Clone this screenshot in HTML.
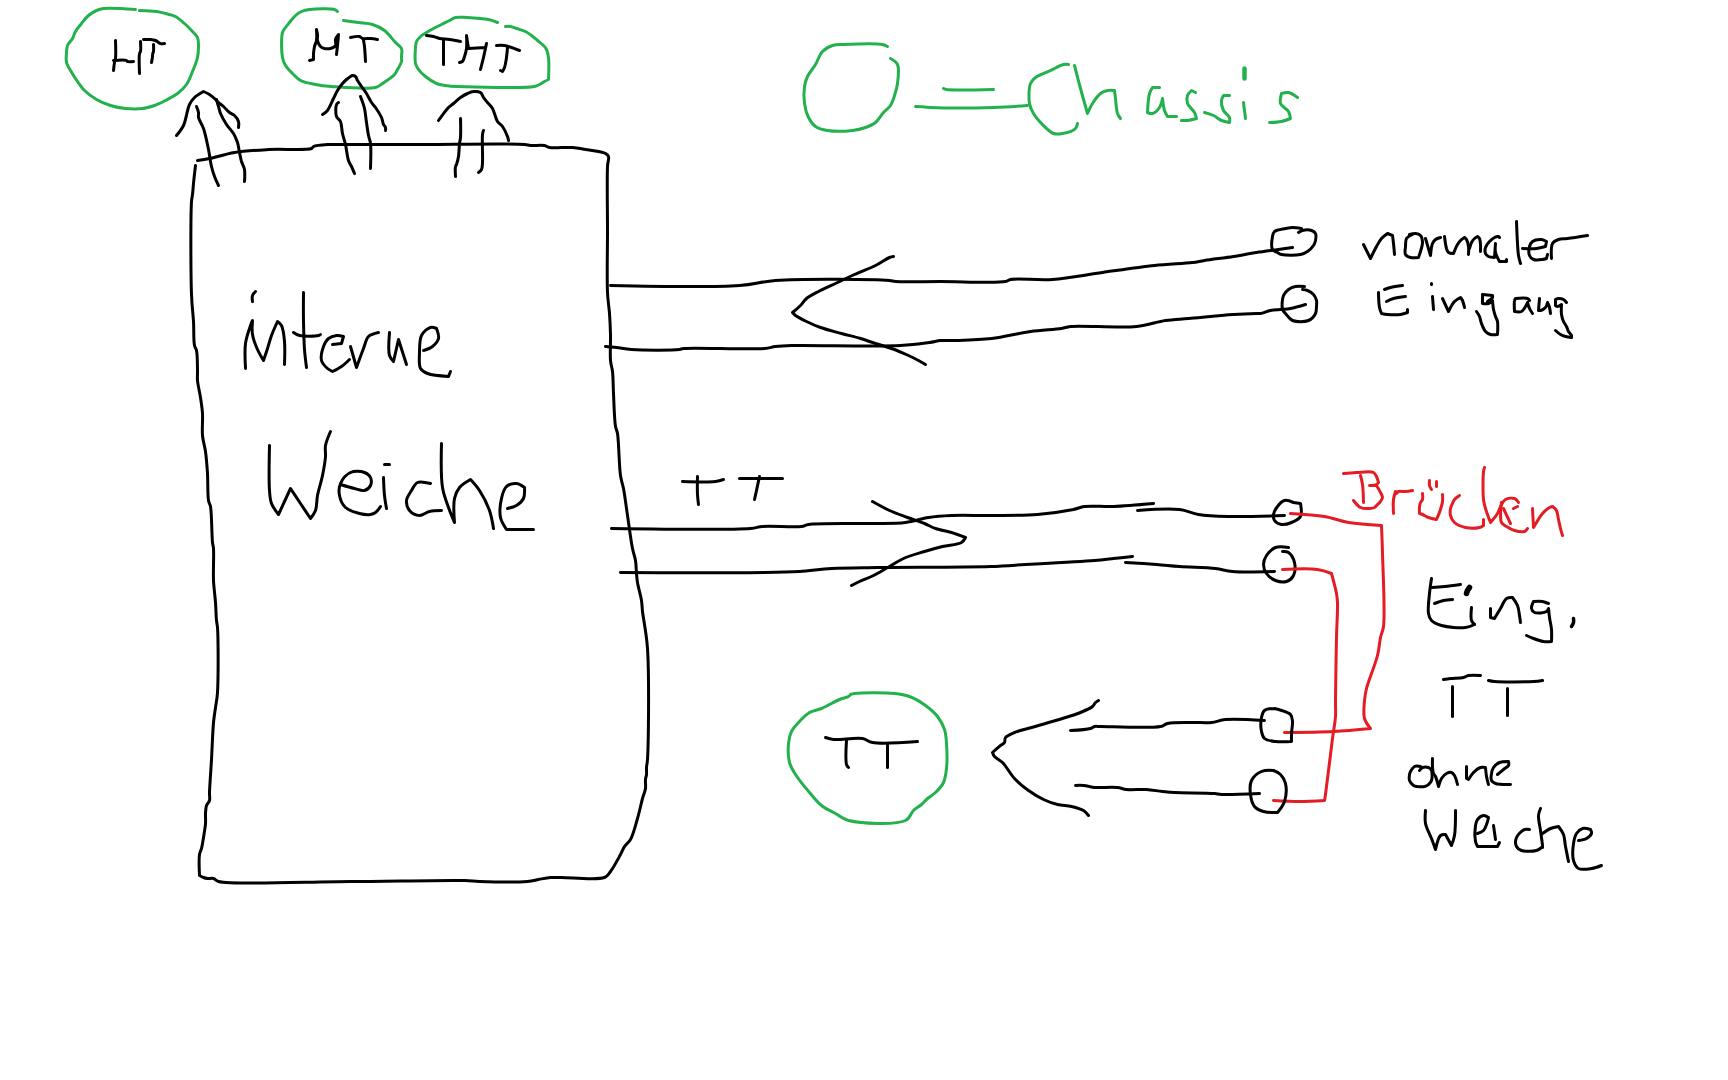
<!DOCTYPE html>
<html><head><meta charset="utf-8"><title>Weiche</title>
<style>
html,body{margin:0;padding:0;background:#fff;width:1728px;height:1080px;overflow:hidden;font-family:"Liberation Sans",sans-serif;}
svg{display:block;}
path{fill:none;stroke-linecap:round;stroke-linejoin:round;}
.k{stroke:#000000;stroke-width:3.0;}
.g{stroke:#22b14c;stroke-width:3.0;}
.r{stroke:#e41c24;stroke-width:3.0;}
</style></head><body>
<svg width="1728" height="1080" viewBox="0 0 1728 1080">
<rect width="1728" height="1080" fill="#fff"/>
<path class="g" d="M135.5 9.5 C135.5 9.5 110.3 7.7 103.5 8.5 C100.3 8.9 98.8 9.5 96.5 10.5 C93.8 11.7 90.9 13.4 88.5 15.5 C85.9 17.7 83.7 20.8 81.5 23.5 C79.4 26.1 77 28.8 75.5 31.5 C74.2 33.8 73.8 36.2 72.5 38.5 C71.1 40.9 68.5 43 67.5 45.5 C66.6 47.7 66.7 50 66.5 52.5 C66.3 55.5 65.8 59.4 66.5 62.5 C67.2 65.4 68.9 67.7 70.5 70.5 C72.4 73.9 75.1 78.1 77.5 81.5 C79.8 84.7 81.6 87.7 84.5 90.5 C87.8 93.7 92.2 97 96.5 99.5 C100.8 102 105.7 104 110.5 105.5 C115.3 107 120.3 108 125.5 108.5 C131 109 137.4 109.1 142.5 108.5 C146.9 108 150.6 106.8 154.5 105.5 C158.3 104.2 161.8 102.4 165.5 100.5 C169.5 98.4 173.9 96.2 177.5 93.5 C180.9 90.9 184 88 186.5 84.5 C189.1 80.8 190.7 76 192.5 71.5 C194.4 67 196.5 61.9 197.5 57.5 C198.3 53.7 198.5 50 198.5 46.5 C198.5 43.3 198.7 40.2 197.5 37.5 C196.3 34.8 193.6 32.8 191.5 30.5 C189.3 28.1 187.1 25.8 184.5 23.5 C181.8 21.1 178.7 18.2 175.5 16.5 C172.4 14.9 168.8 14.4 165.5 13.5 C162.4 12.7 160 12 156.5 11.5 C151.7 10.8 139.5 10.5 139.5 10.5"/>
<path class="k" d="M115.5 40.5 C115.5 40.5 116 54.7 115.5 58.5 C115.3 60.3 114.8 60.9 114.5 62.5 C114.1 64.7 113.5 70.5 113.5 70.5"/>
<path class="k" d="M113.5 60.5 C113.5 60.5 124.7 59.7 126.5 60.5 C127.1 60.8 127 61.3 127.5 61.5 C128.6 62 133.5 61.5 133.5 61.5"/>
<path class="k" d="M140.5 41.5 C140.5 41.5 141 49.5 140.5 51.5 C140.3 52.5 139.7 52.4 139.5 53.5 C138.8 56.7 139.5 73.5 139.5 73.5"/>
<path class="k" d="M143.5 39.5 C143.5 39.5 148.4 39.3 150.5 39.5 C152.3 39.7 153.9 39.9 155.5 40.5 C157.2 41.2 158.9 43 160.5 43.5 C161.9 43.9 164.5 43.5 164.5 43.5"/>
<path class="k" d="M153.5 44.5 C153.5 44.5 153.8 49.7 153.5 51.5 C153.3 52.7 152.6 53.6 152.5 54.5 C152.4 55.2 152.6 55.7 152.5 56.5 C152.4 58 151.5 62.5 151.5 62.5"/>
<path class="k" d="M176.5 135.5 C176.5 135.5 181.5 129.6 183.5 125.5 C186.1 120 187.1 109.5 189.5 104.5 C191 101.4 192.4 99.6 194.5 97.5 C196.9 95.2 203.5 91.5 203.5 91.5 C203.5 91.5 207.6 93.3 209.5 94.5 C211.3 95.7 213 97.1 214.5 98.5 C215.9 99.8 217.1 101.2 218.5 102.5 C220 103.9 221.8 105 223.5 106.5 C225.5 108.3 227.5 110.9 229.5 112.5 C231.2 113.8 233.1 114.1 234.5 115.5 C236.1 117 237.9 119.4 238.5 121.5 C239.1 123.4 238.5 127.5 238.5 127.5"/>
<path class="k" d="M196.5 106.5 C196.5 106.5 198.2 110.6 198.5 112.5 C198.8 114.2 198.1 115.6 198.5 117.5 C199.2 120.5 202 124.2 203.5 128.5 C205.5 134.3 207.1 142.9 208.5 149.5 C209.7 155.4 210.3 161.6 211.5 166.5 C212.4 170.3 213.3 173.3 214.5 176.5 C215.7 179.6 218.5 185.5 218.5 185.5"/>
<path class="k" d="M216.5 99.5 C216.5 99.5 217.8 104.2 218.5 106.5 C219.2 108.8 219.5 111 220.5 113.5 C221.9 116.8 224.3 121.1 226.5 124.5 C228.6 127.7 231.6 130.4 233.5 133.5 C235.2 136.4 236.5 139.4 237.5 142.5 C238.5 145.7 238.8 149.3 239.5 152.5 C240.2 155.6 240.6 158.6 241.5 161.5 C242.3 164.3 244 166.5 244.5 169.5 C245.1 173 244.5 181.5 244.5 181.5"/>
<path class="g" d="M337.5 11.5 C337.5 11.5 336.1 10 334.5 9.5 C330.3 8.2 315.5 8.8 309.5 9.5 C306.1 9.9 303.9 10.4 301.5 11.5 C299.3 12.5 297.4 13.8 295.5 15.5 C293.4 17.4 291.3 20.3 289.5 22.5 C288 24.3 286.7 25.8 285.5 27.5 C284.4 29.1 283.2 30.1 282.5 32.5 C281.1 37.5 281.4 51.5 282.5 57.5 C283.1 61 284 63 285.5 65.5 C287.2 68.3 290 71 292.5 73.5 C295 76 297.2 78.7 300.5 80.5 C304.5 82.6 310.4 83.5 315.5 84.5 C320.7 85.5 324.8 86 331.5 86.5 C342.5 87.3 367.3 89.6 375.5 87.5 C379 86.6 379.9 85.2 382.5 83.5 C386 81.2 392 77.3 394.5 74.5 C396.1 72.8 396.5 71.4 397.5 69.5 C398.8 67.2 400.9 63.9 401.5 61.5 C401.9 59.7 401.5 58.4 401.5 56.5 C401.5 54.1 402.5 50.8 401.5 48.5 C400.5 46.1 397.8 44.9 395.5 42.5 C392.4 39.2 388.6 33.6 384.5 30.5 C380.8 27.7 376.8 25.8 372.5 24.5 C368.1 23.1 363.2 23.2 358.5 22.5 C353.6 21.8 343.5 20.5 343.5 20.5"/>
<path class="k" d="M309.5 60.5 C309.5 60.5 313.5 59.5 313.5 59.5 C313.5 59.5 313.4 55.6 313.5 53.5 C313.7 51.3 314 48.7 314.5 46.5 C315 44.4 316.1 42.8 316.5 40.5 C317 37.4 316.5 29.5 316.5 29.5 C316.5 29.5 317.3 32.7 317.5 34.5 C317.7 36.4 317 38.6 317.5 40.5 C318 42.6 319.2 45.2 320.5 46.5 C321.6 47.6 323 48.1 324.5 48.5 C326.3 48.9 328.7 49 330.5 48.5 C332.3 48 334.7 47 335.5 45.5 C336.4 44 335 41.3 335.5 39.5 C336 37.7 338.5 34.5 338.5 34.5 C338.5 34.5 337.9 42 337.5 45.5 C337.2 48.7 336.5 54.5 336.5 54.5"/>
<path class="k" d="M350.5 37.5 C350.5 37.5 357.4 36 359.5 36.5 C360.8 36.8 361.2 38.1 362.5 38.5 C364.5 39.1 367.9 38.3 370.5 38.5 C372.9 38.7 377.5 39.5 377.5 39.5"/>
<path class="k" d="M363.5 40.5 C363.5 40.5 364.2 44 364.5 46.5 C364.9 50.4 365.5 61.5 365.5 61.5"/>
<path class="k" d="M322.5 114.5 C322.5 114.5 325.9 112.4 327.5 110.5 C329.7 107.7 331.7 102.1 333.5 98.5 C335 95.6 336 93 337.5 90.5 C339 88 340.8 85.5 342.5 83.5 C343.8 81.9 345.1 80.7 346.5 79.5 C347.8 78.4 349.4 77.2 350.5 76.5 C351.3 76 351.8 75.6 352.5 75.5 C353.4 75.4 354.7 75.8 355.5 76.5 C356.5 77.3 356.7 79.1 357.5 80.5 C358.6 82.3 360.1 84.4 361.5 86.5 C363.1 88.8 364.9 91 366.5 93.5 C368.2 96.3 369.8 100 371.5 102.5 C372.8 104.5 374.1 105.5 375.5 107.5 C377.4 110.2 380.1 114.4 381.5 117.5 C382.6 120 382.7 122.7 383.5 124.5 C384.1 125.8 385.2 126.4 385.5 127.5 C385.8 128.5 385.5 130.5 385.5 130.5"/>
<path class="k" d="M338.5 102.5 C338.5 102.5 336.9 103.4 336.5 104.5 C335.6 106.7 335.4 113.5 336.5 116.5 C337.3 118.7 339.5 119.3 340.5 121.5 C341.8 124.5 341.6 129.6 342.5 133.5 C343.3 137.3 344.6 140.5 345.5 144.5 C346.6 149.3 347.2 156.5 348.5 160.5 C349.4 163.1 350.5 164.4 351.5 166.5 C352.5 168.7 354.5 173.5 354.5 173.5"/>
<path class="k" d="M360.5 96.5 C360.5 96.5 363.5 104.3 364.5 108.5 C365.5 112.9 365.8 117.9 366.5 122.5 C367.2 126.9 367.7 131.7 368.5 135.5 C369.1 138.5 370.1 140.1 370.5 143.5 C371.2 149.5 370.5 168.5 370.5 168.5"/>
<path class="g" d="M497.5 22.5 C497.5 22.5 492.2 20.3 488.5 19.5 C482.8 18.3 472.6 17.8 466.5 17.5 C462.2 17.3 458.5 16.8 455.5 17.5 C453.1 18.1 451.6 19.4 449.5 20.5 C447 21.7 444.2 23.2 441.5 24.5 C438.8 25.8 436.1 27.1 433.5 28.5 C431.1 29.8 428.7 31.1 426.5 32.5 C424.4 33.8 422.2 34.9 420.5 36.5 C418.9 38 417.3 39.6 416.5 41.5 C415.7 43.3 415.7 45 415.5 47.5 C415.2 51.5 414.6 59.5 415.5 63.5 C416.1 66.1 417.1 67.5 418.5 69.5 C420.2 71.9 422.8 74.3 425.5 76.5 C428.6 79 432.9 82 436.5 83.5 C439.5 84.8 442.3 85 445.5 85.5 C449 86 451.2 86.3 456.5 86.5 C470.7 87.1 524.1 88.5 534.5 86.5 C537.2 86 537.9 85.3 539.5 84.5 C541.2 83.7 542.9 82.4 544.5 81.5 C545.9 80.7 548.5 79.5 548.5 79.5 C548.5 79.5 549.2 63 548.5 57.5 C548.1 54.1 547.5 51.6 546.5 49.5 C545.7 47.8 544.8 46.8 543.5 45.5 C541.9 43.8 539.5 42.2 537.5 40.5 C535.5 38.8 533.5 37 531.5 35.5 C529.5 34 527.8 32.6 525.5 31.5 C522.9 30.2 519.2 29.4 516.5 28.5 C514.3 27.8 512.4 26.8 510.5 26.5 C508.8 26.2 505.5 26.5 505.5 26.5"/>
<path class="k" d="M426.5 35.5 C426.5 35.5 431.3 36 433.5 36.5 C435.6 37 437.2 38 439.5 38.5 C442.4 39.1 446.1 39 449.5 39.5 C453.1 40 460.5 41.5 460.5 41.5"/>
<path class="k" d="M443.5 39.5 L443.5 64.5"/>
<path class="k" d="M459.5 62.5 C459.5 62.5 461.7 62.2 462.5 61.5 C463.5 60.5 463.9 58.4 464.5 56.5 C465.3 54.2 466.1 51.5 466.5 48.5 C467 44.7 466.5 35.5 466.5 35.5 C466.5 35.5 468.5 48.5 468.5 48.5 C468.5 48.5 485.5 47.5 485.5 47.5 C485.5 47.5 486.5 43.5 486.5 43.5 C486.5 43.5 484.5 53 483.5 57.5 C482.5 61.7 480.5 69.5 480.5 69.5"/>
<path class="k" d="M496.5 45.5 C496.5 45.5 501.5 45 504.5 45.5 C508.8 46.2 519.5 50.5 519.5 50.5"/>
<path class="k" d="M507.5 47.5 C507.5 47.5 507 54.2 506.5 57.5 C506 60.8 505.4 65 504.5 67.5 C503.9 69.2 502.5 71.5 502.5 71.5 C502.5 71.5 500.5 70.5 500.5 70.5"/>
<path class="k" d="M438.5 120.5 C438.5 120.5 445.6 110.5 448.5 107.5 C450.3 105.6 451.7 105 453.5 103.5 C455.7 101.7 458.1 99.2 460.5 97.5 C462.8 95.9 465.2 94.5 467.5 93.5 C469.5 92.6 471.4 91.7 473.5 91.5 C475.7 91.3 478.8 91.4 480.5 92.5 C482 93.5 482.4 95.9 483.5 97.5 C484.7 99.2 486.1 100.8 487.5 102.5 C489.1 104.4 491 106 492.5 108.5 C494.5 111.9 495.4 118.3 497.5 121.5 C499 123.8 501 124.4 502.5 126.5 C504.4 129.1 506.5 133.9 507.5 136.5 C508.1 138.1 508.5 140.5 508.5 140.5"/>
<path class="k" d="M460.5 118.5 C460.5 118.5 460.9 133 460.5 137.5 C460.3 140.1 459.8 141.1 459.5 143.5 C459.1 147 459.1 152.7 458.5 156.5 C458 159.5 457.1 162.7 456.5 164.5 C456.2 165.4 455.7 165.5 455.5 166.5 C455 168.5 455.5 176.5 455.5 176.5"/>
<path class="k" d="M483.5 130.5 C483.5 130.5 482.7 132.5 482.5 134.5 C481.9 139.6 482.9 156.3 482.5 162.5 C482.3 165.6 482.4 167.8 481.5 169.5 C480.8 170.9 478.5 172.5 478.5 172.5"/>
<path class="k" d="M197.5 160.5 C197.5 160.5 204.8 159.5 209.5 158.5 C216.3 157.1 225.5 154 234.5 152.5 C244.9 150.8 256.5 150.2 268.5 149.5 C282 148.7 306.5 150.6 311.5 148.5 C312.8 148 312.4 147.1 313.5 146.5 C316 145.3 323.2 144.8 327.5 144.5 C331.1 144.2 333.2 144.5 337.5 144.5 C345.3 144.5 358.4 144.5 370.5 144.5 C385.4 144.5 400.8 144.5 420.5 144.5 C448.9 144.5 511.1 143.4 524.5 144.5 C527.7 144.8 528.1 145.3 530.5 145.5 C534.2 145.8 541.1 144.8 544.5 145.5 C546.6 145.9 547.2 147.1 549.5 147.5 C554.3 148.4 565.9 147 572.5 147.5 C577.5 147.9 581.2 148.8 585.5 149.5 C589.8 150.2 594.9 150.7 598.5 151.5 C601.2 152.1 603.7 152.5 605.5 153.5 C606.8 154.3 608 155 608.5 156.5 C609.3 158.7 607.7 161.7 607.5 166.5 C606.9 178.6 607.5 209.3 607.5 230.5 C607.5 251.3 606.8 277.3 607.5 292.5 C607.9 301.4 609 306.5 609.5 313.5 C610 320.5 610.3 327.1 610.5 334.5 C610.7 342.7 609.9 353.7 610.5 360.5 C610.9 365 612 367.2 612.5 371.5 C613.2 377.6 613.1 385.4 613.5 393.5 C614 403.4 614.3 419.6 615.5 426.5 C616.1 429.7 616.9 430.1 617.5 433.5 C618.9 441.6 619 465.5 620.5 475.5 C621.3 481.1 622.5 483.4 623.5 488.5 C624.9 495.9 626.1 506.1 627.5 515.5 C629.1 525.9 630.8 540.3 632.5 548.5 C633.5 553.5 634.8 556.4 635.5 560.5 C636.2 564.7 636.1 569.6 636.5 573.5 C636.8 576.8 636.9 579 637.5 582.5 C638.3 587.5 640.7 595.2 641.5 600.5 C642.1 604.6 642 606.8 642.5 611.5 C643.5 620.2 646.4 632.8 647.5 648.5 C649.3 675.5 648.5 743.9 647.5 759.5 C647.2 763.7 646.7 764.9 646.5 767.5 C646.4 769.9 646.7 772.4 646.5 774.5 C646.3 776.3 645.7 777.6 645.5 779.5 C645.2 782.1 645.9 785.5 645.5 788.5 C645 791.8 643.6 794.6 642.5 798.5 C641 804 639.5 811.8 637.5 818.5 C635.5 825.5 633.3 834.6 630.5 839.5 C628.7 842.7 626.2 844 624.5 846.5 C622.9 849 622.2 851.4 620.5 854.5 C618 859.1 613.7 867.4 610.5 871.5 C608.4 874.2 607.8 876.1 604.5 877.5 C597 880.6 571.1 877.5 561.5 877.5 C556.6 877.5 554.2 877.2 550.5 877.5 C546.6 877.8 542.4 878.8 538.5 879.5 C534.8 880.2 532.5 881.1 527.5 881.5 C517.2 882.4 491 881.9 479.5 881.5 C473.1 881.3 471.8 880.7 464.5 880.5 C444.3 879.9 389.9 881.3 350.5 881.5 C308.1 881.7 232.7 885.4 218.5 881.5 C215.5 880.7 215.3 879 213.5 878.5 C211.7 878 209.3 878.7 207.5 878.5 C206 878.3 204.8 878 203.5 877.5 C202.1 877 199.5 875.5 199.5 875.5 C199.5 875.5 198.7 859.3 199.5 854.5 C199.9 851.8 200.9 850.8 201.5 848.5 C202.3 845.4 202.9 841.4 203.5 837.5 C204.2 833.1 205.2 827.8 205.5 823.5 C205.8 819.9 205.3 816.6 205.5 813.5 C205.7 810.7 205.7 807.8 206.5 805.5 C207.2 803.6 209 802.4 209.5 800.5 C210.1 798.2 209.4 796.1 209.5 792.5 C209.7 785.2 210.9 770.8 211.5 759.5 C212.2 747.5 212.6 732.1 213.5 722.5 C214.1 716.4 214.8 712.5 215.5 707.5 C216.2 702.5 217.1 699.3 217.5 692.5 C218.4 678.5 218.3 638.2 217.5 627.5 C217.2 624 216.8 623.4 216.5 620.5 C216 615.9 216 608.8 215.5 602.5 C215 595.5 213.9 588.5 213.5 580.5 C213.1 570.8 214 554.9 213.5 548.5 C213.3 545.7 212.8 545.4 212.5 542.5 C211.7 535.6 211.8 513.4 210.5 506.5 C209.9 503.6 209 503.3 208.5 500.5 C207.5 494.8 208 482 207.5 473.5 C207 465.8 206.4 458.2 205.5 451.5 C204.7 445.7 203 441.3 202.5 435.5 C201.9 428.8 202.9 420.2 202.5 413.5 C202.1 407.7 201.3 402.9 200.5 397.5 C199.7 391.9 197.9 385.4 197.5 380.5 C197.2 376.7 197.6 374.4 197.5 370.5 C197.4 365 197.5 354.9 196.5 350.5 C196 348.2 195 347.8 194.5 345.5 C193.4 340.5 194 329.7 193.5 321.5 C193 312.8 191.9 306.2 191.5 294.5 C190.7 272.8 190.6 214.8 191.5 201.5 C191.8 197.8 192.2 197.1 192.5 194.5 C192.9 191.3 193.1 187.6 193.5 183.5 C194 178.2 195.5 165.5 195.5 165.5"/>
<path class="k" d="M255.5 291.5 C255.5 291.5 253 293.9 252.5 295.5 C251.9 297.2 252.5 301.5 252.5 301.5"/>
<path class="k" d="M245.5 368.5 C245.5 368.5 244.5 351.1 245.5 343.5 C246.4 336.9 249.1 329.6 250.5 325.5 C251.2 323.3 252.5 320.5 252.5 320.5 C252.5 320.5 251.7 329.8 252.5 334.5 C253.3 339.5 255.5 345 257.5 349.5 C259.3 353.5 263.5 360.5 263.5 360.5 C263.5 360.5 266.2 352.6 267.5 348.5 C268.9 344.3 269.9 339.9 271.5 335.5 C273.2 330.9 277.5 321.5 277.5 321.5 C277.5 321.5 280.4 323.5 281.5 325.5 C283.3 328.9 284 335.7 284.5 341.5 C285.1 348.4 284.5 364.5 284.5 364.5"/>
<path class="k" d="M303.5 292.5 C303.5 292.5 303.3 311.9 303.5 321.5 C303.7 330.9 303.9 341.2 304.5 349.5 C305 356.2 306.5 367.5 306.5 367.5"/>
<path class="k" d="M293.5 332.5 C293.5 332.5 296.8 334.9 299.5 335.5 C304 336.6 315.4 336.2 318.5 335.5 C319.6 335.3 320.5 334.5 320.5 334.5"/>
<path class="k" d="M332.5 344.5 C332.5 344.5 341.5 343.5 341.5 343.5 C341.5 343.5 343.5 336.5 343.5 336.5 C343.5 336.5 338.9 335.2 336.5 335.5 C333.9 335.8 330.6 336.8 328.5 338.5 C326.3 340.3 324.7 343.3 323.5 346.5 C322.1 350.4 320.5 356.6 321.5 360.5 C322.3 363.7 325.4 366.6 327.5 368.5 C329.1 369.9 332.5 371.5 332.5 371.5 C332.5 371.5 338.7 368.5 341.5 366.5 C344.4 364.5 349.5 359.5 349.5 359.5"/>
<path class="k" d="M350.5 346.5 C350.5 346.5 356.5 367.5 356.5 367.5 C356.5 367.5 361.3 354.1 363.5 348.5 C365.3 344 365.8 339.2 368.5 336.5 C371 334.1 378.5 332.5 378.5 332.5"/>
<path class="k" d="M389.5 332.5 C389.5 332.5 388 350.5 389.5 355.5 C390.4 358.3 393.5 361.5 393.5 361.5 C393.5 361.5 398.5 339.5 398.5 339.5 C398.5 339.5 406.5 364.5 406.5 364.5"/>
<path class="k" d="M423.5 350.5 C423.5 350.5 430 348.5 432.5 346.5 C435 344.5 437.8 341.5 438.5 338.5 C439.2 335.5 436.5 328.5 436.5 328.5 C436.5 328.5 432.6 326.9 430.5 327.5 C427.6 328.3 423.4 331.9 421.5 335.5 C419.3 339.8 419.7 346.9 419.5 352.5 C419.4 357.9 418.5 364.9 420.5 368.5 C422 371.1 424.3 372.2 427.5 373.5 C432.5 375.5 448.5 376.5 448.5 376.5 C448.5 376.5 450.5 371.5 450.5 371.5"/>
<path class="k" d="M269.5 445.5 C269.5 445.5 268.7 480 269.5 490.5 C269.9 496.2 270 499.5 271.5 503.5 C273 507.5 278.5 514.5 278.5 514.5 C278.5 514.5 290.5 488.5 290.5 488.5 C290.5 488.5 297.2 498.5 300.5 503.5 C303.8 508.5 310.5 518.5 310.5 518.5 C310.5 518.5 314.3 513.7 315.5 510.5 C317 506.4 316.5 500.8 317.5 495.5 C318.7 489.3 321.2 482.1 322.5 475.5 C323.8 469.1 325.1 462 325.5 456.5 C325.8 452.3 324.8 449.3 325.5 445.5 C326.3 441.1 330.5 431.5 330.5 431.5"/>
<path class="k" d="M340.5 484.5 C340.5 484.5 350.2 487.5 354.5 488.5 C358.1 489.4 361.7 491.2 364.5 490.5 C366.9 489.9 369.5 487.6 370.5 485.5 C371.5 483.3 371.5 479.7 370.5 477.5 C369.5 475.4 367.1 473.5 364.5 472.5 C361 471.2 354.5 470.7 350.5 472.5 C346.4 474.3 342.3 479.4 340.5 483.5 C338.9 487.2 338.7 491.6 339.5 495.5 C340.3 499.6 342.3 504.5 345.5 507.5 C348.9 510.7 355 512.4 359.5 513.5 C363.3 514.5 367.6 514.9 370.5 514.5 C372.5 514.2 374 513.6 375.5 512.5 C377.4 511.2 380.5 506.5 380.5 506.5"/>
<path class="k" d="M384.5 464.5 L389.5 464.5"/>
<path class="k" d="M383.5 477.5 C383.5 477.5 383.9 490 384.5 495.5 C385 500.2 386.5 508.5 386.5 508.5"/>
<path class="k" d="M430.5 483.5 C430.5 483.5 420.7 481 417.5 482.5 C414.7 483.8 413.3 487.6 411.5 490.5 C409.6 493.6 406.8 497.1 406.5 500.5 C406.2 503.8 407.4 508 409.5 510.5 C411.7 513.1 416.1 515.4 419.5 515.5 C422.8 515.6 425.9 512.3 429.5 511.5 C433.3 510.6 441.5 510.5 441.5 510.5"/>
<path class="k" d="M441.5 443.5 C441.5 443.5 440.6 475.8 442.5 487.5 C443.8 495.6 446.4 501.4 448.5 507.5 C450.4 512.9 454.5 522.5 454.5 522.5 C454.5 522.5 453.1 504.8 454.5 498.5 C455.5 494 457 490.6 459.5 487.5 C462.2 484.2 470.5 479.5 470.5 479.5 C470.5 479.5 476.7 486.1 479.5 490.5 C483.1 496 487.1 503.9 489.5 510.5 C491.6 516.5 493.5 528.5 493.5 528.5"/>
<path class="k" d="M507.5 508.5 C507.5 508.5 513.9 507.1 516.5 505.5 C519.2 503.8 522.1 501.4 523.5 498.5 C524.9 495.5 524.5 487.5 524.5 487.5 C524.5 487.5 519.4 483.7 516.5 483.5 C513.4 483.2 509 484.3 506.5 486.5 C503.8 489 502.5 493.9 501.5 498.5 C500.2 504 499.4 512 500.5 517.5 C501.5 522.1 506.5 529.5 506.5 529.5 C506.5 529.5 533.5 529.5 533.5 529.5"/>
<path class="g" d="M887.5 46.5 C887.5 46.5 885 45 882.5 44.5 C875.7 43.2 852.5 44.1 843.5 44.5 C838.7 44.7 836 44.4 832.5 45.5 C828.9 46.7 825.2 48.6 822.5 51.5 C819.4 54.7 818 60.3 815.5 64.5 C813 68.6 809.4 72.5 807.5 76.5 C805.9 79.9 805.1 82.7 804.5 86.5 C803.8 91.4 803.8 98.2 804.5 103.5 C805.2 108.4 806.5 113.5 808.5 117.5 C810.3 121 812.5 124.3 815.5 126.5 C818.7 128.8 822.7 129.7 827.5 130.5 C834.2 131.6 845.6 131.3 852.5 130.5 C857.6 129.9 861.5 128.9 865.5 127.5 C869.1 126.2 872.6 124.9 875.5 122.5 C878.6 120 880.8 115.5 883.5 112.5 C885.8 109.9 888.7 108.3 890.5 105.5 C892.4 102.6 893.4 99 894.5 95.5 C895.7 91.7 896.9 88 897.5 83.5 C898.2 77.9 899.5 68.8 897.5 64.5 C896.1 61.5 890.5 58.5 890.5 58.5"/>
<path class="g" d="M943.5 88.5 C943.5 88.5 944.9 89.2 946.5 89.5 C952.8 90.5 993.5 89.5 993.5 89.5"/>
<path class="g" d="M915.5 106.5 C915.5 106.5 917.2 106.4 918.5 106.5 C921.2 106.6 924.9 107.3 930.5 107.5 C943.3 108 975.7 108 993.5 107.5 C1006.6 107.1 1027.5 105.5 1027.5 105.5"/>
<path class="g" d="M1068.5 64.5 C1068.5 64.5 1065.5 64.1 1063.5 64.5 C1060.1 65.2 1055 68.4 1050.5 70.5 C1045.7 72.7 1039 74.8 1035.5 77.5 C1033.1 79.3 1031.6 80.7 1030.5 83.5 C1028.7 88 1028.6 98.1 1029.5 103.5 C1030.2 107.5 1031.6 110.3 1033.5 113.5 C1035.5 117 1038.4 120.3 1041.5 123.5 C1044.9 127 1049.5 132.1 1053.5 133.5 C1056.5 134.6 1059.3 134.1 1062.5 133.5 C1066.5 132.8 1073.2 130.8 1075.5 128.5 C1076.9 127.1 1077.5 123.5 1077.5 123.5"/>
<path class="g" d="M1074.5 65.5 C1074.5 65.5 1078.4 80.7 1080.5 88.5 C1082.7 96.7 1087.5 113.5 1087.5 113.5 C1087.5 113.5 1090.4 106.7 1092.5 103.5 C1094.7 100 1097.6 95.7 1100.5 93.5 C1102.7 91.8 1105.1 91 1107.5 90.5 C1109.8 90 1114.5 90.5 1114.5 90.5 C1114.5 90.5 1115.1 95.4 1115.5 98.5 C1116 102.7 1116.3 109.9 1117.5 113.5 C1118.3 115.7 1120.5 118.5 1120.5 118.5"/>
<path class="g" d="M1159.5 87.5 C1159.5 87.5 1152.5 87.5 1152.5 87.5 C1152.5 87.5 1150.3 90.8 1149.5 93.5 C1148.2 98 1147.5 112.5 1147.5 112.5 C1147.5 112.5 1150.8 113.9 1152.5 113.5 C1154.8 112.9 1157.8 110 1159.5 107.5 C1161.2 105 1162.5 98.5 1162.5 98.5 C1162.5 98.5 1163.4 107.2 1164.5 110.5 C1165.3 112.9 1167.5 116.5 1167.5 116.5 C1167.5 116.5 1176.5 116.5 1176.5 116.5"/>
<path class="g" d="M1195.5 92.5 C1195.5 92.5 1191.5 90.5 1191.5 90.5 C1191.5 90.5 1188.2 93.5 1187.5 95.5 C1186.7 97.7 1186.6 100.9 1187.5 103.5 C1188.6 106.6 1193 109.7 1194.5 112.5 C1195.6 114.6 1196.5 118.5 1196.5 118.5 C1196.5 118.5 1190.2 120.2 1187.5 120.5 C1185.3 120.7 1181.5 120.5 1181.5 120.5"/>
<path class="g" d="M1229.5 95.5 C1229.5 95.5 1223.5 95.5 1223.5 95.5 C1223.5 95.5 1221.7 98.5 1221.5 100.5 C1221.2 103.2 1222.1 107.6 1223.5 110.5 C1224.8 113.2 1228.7 115.2 1229.5 117.5 C1230.1 119.2 1229.5 122.5 1229.5 122.5 C1229.5 122.5 1224.1 121.6 1221.5 120.5 C1218.7 119.3 1216.3 116.8 1213.5 115.5 C1210.7 114.2 1204.5 112.5 1204.5 112.5"/>
<path class="g" style="stroke-width:4.5" d="M1244.5 68.5 L1244.5 78.5"/>
<path class="g" d="M1243.5 102.5 L1245.5 118.5"/>
<path class="g" d="M1297.5 97.5 C1297.5 97.5 1291.4 93 1288.5 92.5 C1286.1 92.1 1281.5 93.5 1281.5 93.5 C1281.5 93.5 1279.5 100.6 1280.5 103.5 C1281.6 106.6 1286.9 108.7 1288.5 111.5 C1289.8 113.7 1290.5 118.5 1290.5 118.5 C1290.5 118.5 1284.8 120.8 1281.5 121.5 C1277.8 122.3 1269.5 122.5 1269.5 122.5"/>
<path class="k" d="M610.5 285.5 C610.5 285.5 709.8 287.6 739.5 285.5 C755.3 284.4 760.1 281.6 775.5 280.5 C802.8 278.6 875.3 279.3 889.5 280.5 C892.8 280.8 892.6 281.3 895.5 281.5 C903.5 282.2 924.1 281.5 940.5 281.5 C960.2 281.5 996.2 283.3 1005.5 281.5 C1008.2 281 1008 280 1010.5 279.5 C1017.6 278.1 1037.9 280.5 1052.5 279.5 C1068.5 278.4 1085.7 274.8 1102.5 272.5 C1119.7 270.1 1138.5 267.2 1154.5 265.5 C1168.1 264 1183.4 263.6 1192.5 262.5 C1197.6 261.9 1199.6 261.2 1204.5 260.5 C1212.1 259.3 1224.4 257.9 1233.5 256.5 C1241.6 255.2 1248.9 253.7 1256.5 252.5 C1263.9 251.4 1272 250.4 1278.5 249.5 C1283.7 248.8 1292.5 247.5 1292.5 247.5"/>
<path class="k" d="M605.5 346.5 C605.5 346.5 612.6 347.1 616.5 347.5 C621.1 348 625.1 349.1 631.5 349.5 C643 350.3 672.4 350.4 679.5 349.5 C681.6 349.2 681.3 348.8 683.5 348.5 C693.3 347.3 750 349.8 764.5 348.5 C769.9 348 771.5 347 775.5 346.5 C780.3 345.9 783.8 345.7 791.5 345.5 C811.6 344.9 875.8 346.8 900.5 345.5 C913.3 344.8 922.1 343.5 929.5 342.5 C934.1 341.9 936.5 340.9 940.5 340.5 C945.1 340.1 949.4 340.7 955.5 340.5 C964.9 340.2 979.3 339.9 991.5 338.5 C1004.3 337 1018.2 333.2 1030.5 331.5 C1041.4 330 1054.3 329.6 1061.5 328.5 C1065.4 327.9 1066.1 327 1070.5 326.5 C1082.3 325.2 1119 328.3 1136.5 326.5 C1148.2 325.3 1156.4 321.8 1165.5 320.5 C1173.6 319.3 1179.6 319.3 1188.5 318.5 C1201 317.4 1221 315.3 1233.5 314.5 C1242.4 313.9 1252 313.6 1256.5 313.5 C1258.4 313.5 1258.9 313.7 1260.5 313.5 C1263.1 313.1 1267.1 311.2 1270.5 310.5 C1273.8 309.8 1277.2 309.8 1280.5 309.5 C1283.8 309.2 1286.9 309.2 1290.5 308.5 C1295 307.7 1305.5 304.5 1305.5 304.5"/>
<path class="k" d="M893.5 256.5 C893.5 256.5 891.2 256.8 889.5 257.5 C886.2 258.8 880.7 262.9 875.5 265.5 C869.3 268.6 861.3 271.4 854.5 274.5 C848 277.4 841.7 280.6 835.5 283.5 C829.7 286.2 823.6 288.8 818.5 291.5 C814.1 293.8 809.6 295.9 806.5 298.5 C803.9 300.6 802.7 303.2 800.5 305.5 C798.1 307.9 792.5 312.5 792.5 312.5 C792.5 312.5 794.1 314.4 795.5 315.5 C797.9 317.3 802.6 319.6 806.5 321.5 C810.8 323.6 815.3 325.7 820.5 327.5 C826.7 329.7 834.7 331.6 841.5 333.5 C848 335.3 854.6 336.7 860.5 338.5 C865.8 340.1 870.4 341.9 875.5 343.5 C880.7 345.2 886.1 346.6 891.5 348.5 C897.1 350.5 903.6 353.3 908.5 355.5 C912.3 357.2 915.5 358.9 918.5 360.5 C921.1 361.9 925.5 364.5 925.5 364.5"/>
<path class="k" d="M1301.5 228.5 C1301.5 228.5 1295.3 227.5 1292.5 227.5 C1290 227.5 1288.1 228 1285.5 228.5 C1282.2 229.2 1276.6 229.7 1274.5 231.5 C1273.1 232.8 1272.9 234.4 1272.5 236.5 C1271.9 239.8 1271 246.9 1272.5 249.5 C1273.5 251.3 1275.9 251.6 1277.5 252.5 C1278.9 253.3 1279.6 254.1 1281.5 254.5 C1285.4 255.4 1295.8 255.5 1300.5 254.5 C1303.5 253.9 1305.4 252.9 1307.5 251.5 C1309.7 250 1312.1 247.6 1313.5 245.5 C1314.6 243.9 1315.1 242.3 1315.5 240.5 C1315.9 238.4 1316.4 235.2 1315.5 233.5 C1314.8 232.1 1313.2 231.1 1311.5 230.5 C1309.2 229.7 1304.8 229.9 1302.5 230.5 C1300.8 230.9 1298.5 232.5 1298.5 232.5"/>
<path class="k" d="M1304.5 286.5 C1304.5 286.5 1298.3 285.9 1295.5 286.5 C1293 287 1290.5 288 1288.5 289.5 C1286.5 291 1284.6 292.9 1283.5 295.5 C1282.1 299 1281.6 306.4 1282.5 309.5 C1283.1 311.4 1284.2 312 1285.5 313.5 C1287.3 315.6 1289.3 319.2 1292.5 320.5 C1296.5 322.2 1304.5 322.2 1308.5 320.5 C1311.7 319.2 1314.2 316.1 1315.5 313.5 C1316.6 311.3 1316.3 308.7 1316.5 306.5 C1316.6 304.4 1317 302.4 1316.5 300.5 C1316 298.4 1315 296.1 1313.5 294.5 C1312 292.8 1309.5 291.3 1307.5 290.5 C1305.8 289.8 1302.5 289.5 1302.5 289.5"/>
<path class="k" d="M1363.5 244.5 C1363.5 244.5 1370.5 258.5 1370.5 258.5 C1370.5 258.5 1374.5 250.1 1376.5 246.5 C1378.2 243.5 1379.6 240.7 1381.5 238.5 C1383.3 236.5 1387.5 233.5 1387.5 233.5 C1387.5 233.5 1392.5 235.5 1392.5 235.5 C1392.5 235.5 1393.2 240.6 1393.5 243.5 C1393.9 246.9 1394.5 254.5 1394.5 254.5"/>
<path class="k" d="M1412.5 234.5 C1412.5 234.5 1407.7 236.6 1406.5 238.5 C1405.3 240.5 1405.7 243.8 1405.5 246.5 C1405.3 249.2 1404.4 252.6 1405.5 254.5 C1406.4 256.1 1408.6 257 1410.5 257.5 C1412.8 258.1 1418.5 257.5 1418.5 257.5 C1418.5 257.5 1419.9 253.7 1420.5 251.5 C1421.2 248.8 1422.6 245.3 1422.5 242.5 C1422.4 240 1421.9 237 1420.5 235.5 C1419.3 234.2 1417.3 233.7 1415.5 233.5 C1413.6 233.3 1409.5 234.5 1409.5 234.5"/>
<path class="k" d="M1425.5 238.5 C1425.5 238.5 1430.5 255.5 1430.5 255.5 C1430.5 255.5 1431.3 246.3 1432.5 243.5 C1433.3 241.7 1434.2 240.5 1435.5 239.5 C1436.8 238.5 1440.5 237.5 1440.5 237.5"/>
<path class="k" d="M1444.5 236.5 C1444.5 236.5 1445.6 245.6 1446.5 248.5 C1447.1 250.2 1447.4 251.7 1448.5 252.5 C1449.7 253.4 1453.5 253.5 1453.5 253.5 C1453.5 253.5 1456.1 246.8 1457.5 244.5 C1458.5 242.8 1459.3 241.7 1460.5 240.5 C1461.7 239.3 1464.5 237.5 1464.5 237.5 C1464.5 237.5 1465.9 238.5 1466.5 239.5 C1467.4 241.1 1468.2 244.1 1468.5 246.5 C1468.9 249.1 1468.5 254.5 1468.5 254.5"/>
<path class="k" d="M1469.5 248.5 C1469.5 248.5 1470.6 244.2 1471.5 242.5 C1472.3 241 1473.4 239.5 1474.5 238.5 C1475.4 237.6 1477.5 236.5 1477.5 236.5 C1477.5 236.5 1479 237.6 1479.5 238.5 C1480.2 239.9 1480.3 242.4 1480.5 244.5 C1480.7 246.7 1480.5 251.5 1480.5 251.5"/>
<path class="k" d="M1499.5 237.5 C1499.5 237.5 1499 236.6 1498.5 236.5 C1497.6 236.3 1495.8 236.8 1494.5 237.5 C1492.8 238.3 1491 239.9 1489.5 241.5 C1487.9 243.2 1486.1 245.4 1485.5 247.5 C1484.9 249.4 1484.9 251.9 1485.5 253.5 C1486 254.8 1487.2 255.8 1488.5 256.5 C1490.1 257.3 1494.5 257.5 1494.5 257.5 C1494.5 257.5 1495.5 243.5 1495.5 243.5 C1495.5 243.5 1494.9 249.6 1495.5 252.5 C1496.2 255.6 1499.5 261.5 1499.5 261.5 C1499.5 261.5 1506.5 261.5 1506.5 261.5 C1506.5 261.5 1506.5 259.5 1506.5 259.5"/>
<path class="k" d="M1516.5 221.5 C1516.5 221.5 1517.1 237.3 1517.5 243.5 C1517.8 248.1 1517.9 251.9 1518.5 255.5 C1519 258.5 1520.5 263.5 1520.5 263.5"/>
<path class="k" d="M1522.5 248.5 C1522.5 248.5 1532.4 249 1536.5 248.5 C1539.9 248.1 1545.5 246.5 1545.5 246.5 C1545.5 246.5 1546.5 241.5 1546.5 241.5 C1546.5 241.5 1543.4 239.7 1541.5 239.5 C1539 239.3 1534.5 240 1532.5 241.5 C1530.9 242.7 1530.1 244.5 1529.5 246.5 C1528.8 249 1528.6 253.2 1529.5 255.5 C1530.2 257.3 1531.7 258.8 1533.5 259.5 C1535.8 260.4 1540.1 259.8 1542.5 259.5 C1544.1 259.3 1546.5 258.5 1546.5 258.5 C1546.5 258.5 1547.5 254.5 1547.5 254.5"/>
<path class="k" d="M1551.5 258.5 C1551.5 258.5 1550.7 246.7 1552.5 243.5 C1553.8 241.3 1556.2 240.3 1558.5 239.5 C1561.1 238.6 1563.9 239 1567.5 238.5 C1572.9 237.8 1587.5 235.5 1587.5 235.5"/>
<path class="k" d="M1384.5 289.5 C1384.5 289.5 1388.1 288.1 1390.5 287.5 C1393.8 286.7 1402.5 285.5 1402.5 285.5"/>
<path class="k" d="M1378.5 292.5 C1378.5 292.5 1378.7 303.7 1379.5 307.5 C1380 310 1381.5 313.5 1381.5 313.5 C1381.5 313.5 1385.1 314.3 1387.5 314.5 C1391 314.8 1396.9 315 1400.5 314.5 C1403.2 314.1 1407.5 312.5 1407.5 312.5 C1407.5 312.5 1407.5 309.5 1407.5 309.5"/>
<path class="k" d="M1386.5 301.5 C1386.5 301.5 1390.8 299.3 1393.5 298.5 C1396.9 297.5 1405.5 296.5 1405.5 296.5"/>
<path class="k" d="M1431.5 283.5 L1431.5 284.5"/>
<path class="k" d="M1432.5 296.5 L1433.5 309.5"/>
<path class="k" d="M1442.5 298.5 C1442.5 298.5 1448.5 311.5 1448.5 311.5 C1448.5 311.5 1452.2 303.9 1454.5 301.5 C1456.3 299.6 1460.5 297.5 1460.5 297.5 C1460.5 297.5 1461.9 299.2 1462.5 300.5 C1463.3 302.3 1464.5 307.5 1464.5 307.5"/>
<path class="k" d="M1487.5 301.5 C1487.5 301.5 1491.9 298.7 1492.5 297.5 C1492.8 296.8 1492.5 295.5 1492.5 295.5 C1492.5 295.5 1482.5 294.5 1482.5 294.5 C1482.5 294.5 1482.5 303.5 1482.5 303.5 C1482.5 303.5 1486.8 304.1 1488.5 303.5 C1490.1 303 1492.5 300.5 1492.5 300.5 C1492.5 300.5 1493 306.7 1493.5 309.5 C1494 312 1494.8 314.4 1495.5 316.5 C1496.1 318.3 1497.1 319.4 1497.5 321.5 C1498.1 324.8 1497.5 334.5 1497.5 334.5 C1497.5 334.5 1492.6 335.1 1490.5 334.5 C1488.6 334 1486.9 333 1485.5 331.5 C1483.8 329.6 1482.5 326.1 1481.5 323.5 C1480.6 321.1 1480.4 318.6 1479.5 316.5 C1478.7 314.6 1476.5 311.5 1476.5 311.5"/>
<path class="k" d="M1529.5 300.5 C1529.5 300.5 1528.6 298.9 1527.5 298.5 C1525.3 297.6 1515.5 298.5 1515.5 298.5 C1515.5 298.5 1514.7 299.5 1514.5 300.5 C1514 302.7 1514.5 311.5 1514.5 311.5 C1514.5 311.5 1519.6 312.4 1521.5 311.5 C1523.3 310.6 1524.5 308.1 1525.5 306.5 C1526.4 305.1 1527.5 302.5 1527.5 302.5 C1527.5 302.5 1528.6 306.6 1529.5 308.5 C1530.3 310.3 1532.5 313.5 1532.5 313.5"/>
<path class="k" d="M1539.5 298.5 C1539.5 298.5 1538.5 310.5 1538.5 310.5 C1538.5 310.5 1539.7 310.7 1540.5 310.5 C1541.8 310.1 1544.3 308.9 1545.5 307.5 C1546.6 306.2 1547.5 302.5 1547.5 302.5 C1547.5 302.5 1549 305.7 1549.5 307.5 C1550 309.4 1550.5 313.5 1550.5 313.5"/>
<path class="k" d="M1566.5 302.5 C1566.5 302.5 1564.7 300.2 1563.5 299.5 C1562.1 298.8 1559.9 298.4 1558.5 298.5 C1557.4 298.6 1555.5 299.5 1555.5 299.5 C1555.5 299.5 1555.5 305.5 1555.5 305.5 C1555.5 305.5 1556.7 306.5 1557.5 306.5 C1558.6 306.5 1561.5 304.5 1561.5 304.5 C1561.5 304.5 1561.1 311.5 1561.5 314.5 C1561.9 317.1 1562.6 319.4 1563.5 321.5 C1564.3 323.4 1565.7 324.8 1566.5 326.5 C1567.3 328.1 1567.6 330 1568.5 331.5 C1569.3 333 1571.1 334.3 1571.5 335.5 C1571.7 336.2 1571.5 337.5 1571.5 337.5 C1571.5 337.5 1567.4 337 1565.5 336.5 C1563.7 336 1562.1 335.4 1560.5 334.5 C1558.8 333.5 1555.5 330.5 1555.5 330.5"/>
<path class="k" d="M682.5 481.5 C682.5 481.5 708.3 482.4 715.5 481.5 C719.1 481.1 723.5 479.5 723.5 479.5"/>
<path class="k" d="M697.5 476.5 C697.5 476.5 697.2 489.4 697.5 494.5 C697.7 498.3 698.5 504.5 698.5 504.5"/>
<path class="k" d="M739.5 478.5 L782.5 478.5"/>
<path class="k" d="M759.5 476.5 C759.5 476.5 757.4 486.3 756.5 490.5 C755.8 493.8 754.5 499.5 754.5 499.5"/>
<path class="k" d="M611.5 528.5 C611.5 528.5 729.5 530.2 750.5 528.5 C756.7 528 757.3 526.9 762.5 526.5 C771.8 525.7 793.8 527.6 801.5 526.5 C804.8 526 805 525 808.5 524.5 C818.8 523 852.8 523.9 870.5 523.5 C883.8 523.2 895.1 523.8 905.5 522.5 C914 521.5 920.8 518.7 928.5 517.5 C936.1 516.3 942.8 515.9 951.5 515.5 C962.8 515 976.9 515.6 990.5 515.5 C1005.4 515.3 1022.9 515.7 1037.5 514.5 C1050.3 513.5 1065 511.2 1073.5 509.5 C1078.3 508.5 1079.9 507.1 1084.5 506.5 C1091.8 505.5 1103.1 506.9 1113.5 506.5 C1125.8 506 1153.5 503.5 1153.5 503.5"/>
<path class="k" d="M1137.5 510.5 C1137.5 510.5 1168.3 508.2 1179.5 509.5 C1187.1 510.4 1191.4 513.3 1198.5 514.5 C1207.1 515.9 1216.2 516.2 1227.5 516.5 C1243.3 516.9 1284.5 515.5 1284.5 515.5"/>
<path class="k" d="M620.5 572.5 C620.5 572.5 732.8 573 764.5 572.5 C780.1 572.3 788.1 572.2 799.5 571.5 C810.4 570.8 819.9 569.2 831.5 568.5 C845.4 567.7 858.8 567.8 877.5 567.5 C906.8 567.1 963.6 567.4 990.5 566.5 C1005.5 566 1013.8 565.2 1025.5 564.5 C1037.4 563.8 1049.8 563.2 1061.5 562.5 C1072.7 561.8 1085 561.3 1094.5 560.5 C1101.7 559.9 1107.2 559.2 1113.5 558.5 C1119.8 557.8 1132.5 556.5 1132.5 556.5"/>
<path class="k" d="M1125.5 562.5 C1125.5 562.5 1146.9 563.8 1156.5 564.5 C1164.7 565.1 1171 565.9 1179.5 566.5 C1190.2 567.3 1205.8 567.4 1215.5 568.5 C1222.2 569.3 1225.5 570.9 1232.5 571.5 C1243.4 572.5 1274.5 571.5 1274.5 571.5"/>
<path class="k" d="M872.5 501.5 C872.5 501.5 883.7 507.8 889.5 510.5 C895.3 513.2 901.6 515.3 907.5 517.5 C913.2 519.6 919.5 521.5 924.5 523.5 C928.6 525.2 931.4 527.1 935.5 528.5 C940.3 530.2 946.4 531 951.5 532.5 C956.4 534 965.5 537.5 965.5 537.5 C965.5 537.5 963.7 541.2 961.5 542.5 C957.7 544.8 948.7 545 942.5 546.5 C936.4 548 930.7 549.6 924.5 551.5 C917.7 553.6 909.7 555.7 903.5 558.5 C898.2 560.9 894.3 563.8 889.5 566.5 C884.3 569.4 878.7 572.9 873.5 575.5 C868.7 577.8 863.5 579.6 859.5 581.5 C856.4 582.9 851.5 585.5 851.5 585.5"/>
<path class="k" d="M1293.5 502.5 C1293.5 502.5 1287.2 499.8 1284.5 500.5 C1281.8 501.2 1279.3 504.1 1277.5 506.5 C1275.7 508.8 1273.9 512 1273.5 514.5 C1273.2 516.6 1273.4 518.9 1274.5 520.5 C1275.8 522.4 1278.9 524.1 1281.5 524.5 C1284.5 525 1288.4 523.8 1291.5 522.5 C1294.7 521.2 1298.9 519.4 1300.5 516.5 C1302.2 513.3 1300.5 503.5 1300.5 503.5 C1300.5 503.5 1293.5 502.5 1293.5 502.5"/>
<path class="k" d="M1288.5 547.5 C1288.5 547.5 1279.2 546.1 1275.5 547.5 C1271.9 548.9 1268.5 552.5 1266.5 555.5 C1264.7 558.2 1263.5 561.5 1263.5 564.5 C1263.5 567.5 1264.7 570.9 1266.5 573.5 C1268.5 576.3 1272.1 579.2 1275.5 580.5 C1278.8 581.8 1283.4 582.5 1286.5 581.5 C1289.3 580.6 1292.1 578.3 1293.5 575.5 C1295.2 572.2 1295.4 566.4 1294.5 562.5 C1293.6 558.8 1290.9 554.2 1288.5 552.5 C1286.7 551.3 1282.5 551.5 1282.5 551.5"/>
<path class="r" d="M1290.5 513.5 C1290.5 513.5 1314.2 514.8 1324.5 516.5 C1333.3 518 1339.8 521 1348.5 522.5 C1358.6 524.2 1381.5 525.5 1381.5 525.5 C1381.5 525.5 1382.2 542 1382.5 553.5 C1383 572.1 1385.2 613 1383.5 626.5 C1382.8 631.9 1381.4 633.4 1380.5 637.5 C1379.4 642.7 1379.2 648.7 1377.5 655.5 C1375.2 664.9 1368.6 680.2 1366.5 688.5 C1365.3 693.4 1364.9 696.1 1364.5 700.5 C1364.1 705.9 1363.1 713.5 1364.5 718.5 C1365.6 722.5 1370.5 728.5 1370.5 728.5 C1370.5 728.5 1346.7 730.8 1333.5 731.5 C1318.3 732.3 1284.5 732.5 1284.5 732.5"/>
<path class="r" d="M1282.5 569.5 C1282.5 569.5 1308.5 568.2 1317.5 569.5 C1323.3 570.3 1331.5 573.5 1331.5 573.5 C1331.5 573.5 1335.5 588.1 1336.5 593.5 C1337.1 597.1 1337.3 598.5 1337.5 602.5 C1337.8 610.3 1336.8 624.1 1336.5 637.5 C1336.1 655.4 1335.6 686.4 1335.5 700.5 C1335.4 707.6 1335.9 710.8 1335.5 716.5 C1335 723.3 1333.7 729.5 1332.5 738.5 C1330.6 752.9 1326.8 785.3 1325.5 794.5 C1325.1 797.5 1324.5 800.5 1324.5 800.5 C1324.5 800.5 1307.9 801.5 1299.5 801.5 C1290.9 801.5 1273.5 800.5 1273.5 800.5"/>
<path class="r" d="M1343.5 473.5 C1343.5 473.5 1351.9 472.7 1356.5 472.5 C1361.8 472.3 1370.3 470.9 1373.5 472.5 C1375.2 473.4 1375.7 475 1376.5 476.5 C1377.4 478.2 1378.5 482.5 1378.5 482.5 C1378.5 482.5 1377.5 484 1376.5 484.5 C1375 485.3 1369.5 485.5 1369.5 485.5 C1369.5 485.5 1376.5 485.5 1376.5 485.5 C1376.5 485.5 1379.5 490.3 1380.5 492.5 C1381.4 494.3 1382.6 495.9 1382.5 497.5 C1382.4 498.9 1381.3 500.3 1380.5 501.5 C1379.7 502.6 1378.5 503.5 1377.5 504.5 C1376.5 505.5 1375.7 506.8 1374.5 507.5 C1373.1 508.2 1371.4 508.4 1369.5 508.5 C1366.9 508.6 1363.1 508.8 1360.5 507.5 C1357.8 506.2 1353.5 500.5 1353.5 500.5"/>
<path class="r" d="M1360.5 475.5 C1360.5 475.5 1362 481 1362.5 484.5 C1363.2 489.4 1363.5 502.5 1363.5 502.5"/>
<path class="r" d="M1393.5 513.5 C1393.5 513.5 1393 503.5 1393.5 499.5 C1393.9 496.4 1395.5 491.5 1395.5 491.5 C1395.5 491.5 1396.5 493.5 1396.5 493.5 C1396.5 493.5 1397.5 491.9 1398.5 491.5 C1400 490.9 1403.2 491.7 1405.5 491.5 C1407.8 491.3 1412.5 490.5 1412.5 490.5"/>
<path class="r" d="M1429.5 480.5 C1429.5 480.5 1429.1 484 1429.5 485.5 C1429.8 487 1431.5 489.5 1431.5 489.5"/>
<path class="r" d="M1436.5 481.5 L1436.5 486.5"/>
<path class="r" d="M1422.5 493.5 C1422.5 493.5 1423 497.9 1422.5 499.5 C1422.1 500.7 1421 501.4 1420.5 502.5 C1420 503.7 1419.7 505 1419.5 506.5 C1419.3 508.5 1419.5 513.5 1419.5 513.5 C1419.5 513.5 1421.3 514 1422.5 514.5 C1424.2 515.2 1426.3 516.7 1428.5 517.5 C1430.9 518.4 1436.5 519.5 1436.5 519.5 C1436.5 519.5 1439.5 512.7 1440.5 509.5 C1441.4 506.7 1442.2 504.1 1442.5 501.5 C1442.8 499.1 1442.5 494.5 1442.5 494.5"/>
<path class="r" d="M1459.5 495.5 C1459.5 495.5 1455.7 498 1454.5 499.5 C1453.5 500.7 1453.1 502.1 1452.5 503.5 C1451.8 505.1 1450.9 506.7 1450.5 508.5 C1450.1 510.6 1449.9 513.2 1450.5 515.5 C1451.1 517.9 1452.4 520.6 1454.5 522.5 C1457 524.8 1461.5 526.6 1465.5 527.5 C1469.8 528.4 1476.3 528.3 1479.5 527.5 C1481.3 527.1 1483.5 525.5 1483.5 525.5 C1483.5 525.5 1483.5 519.5 1483.5 519.5"/>
<path class="r" d="M1484.5 467.5 C1484.5 467.5 1483.7 469.5 1483.5 471.5 C1482.9 476.6 1482.8 492.8 1483.5 499.5 C1483.9 503.4 1484.5 505.2 1485.5 508.5 C1486.7 512.7 1490.5 522.5 1490.5 522.5 C1490.5 522.5 1495.6 516.6 1497.5 513.5 C1499.2 510.6 1500 507 1501.5 504.5 C1502.7 502.5 1503.6 500.5 1505.5 499.5 C1507.7 498.3 1512.2 497.7 1514.5 498.5 C1516.3 499.1 1518.5 502.5 1518.5 502.5"/>
<path class="r" d="M1501.5 502.5 C1501.5 502.5 1499.6 518.6 1501.5 522.5 C1502.6 524.7 1504.6 525.3 1506.5 526.5 C1508.8 528 1511.6 529.7 1514.5 530.5 C1517.6 531.4 1522.3 532.3 1524.5 531.5 C1526 531 1527.5 528.5 1527.5 528.5"/>
<path class="r" d="M1513.5 508.5 L1517.5 506.5"/>
<path class="r" d="M1503.5 508.5 L1510.5 523.5"/>
<path class="r" d="M1532.5 508.5 C1532.5 508.5 1533.5 527.5 1533.5 527.5 C1533.5 527.5 1535.3 524.4 1536.5 522.5 C1538.1 519.9 1540.2 516.1 1542.5 513.5 C1544.6 511.1 1547.6 508.6 1549.5 507.5 C1550.6 506.9 1552.5 506.5 1552.5 506.5 C1552.5 506.5 1555.5 508.7 1556.5 510.5 C1557.7 512.8 1557.8 516.5 1558.5 519.5 C1559.2 522.5 1559.8 525.7 1560.5 528.5 C1561.1 531 1562.5 535.5 1562.5 535.5"/>
<path class="k" d="M1431.5 578.5 C1431.5 578.5 1430 588.1 1429.5 593.5 C1428.9 599.7 1427.6 608.6 1428.5 613.5 C1429 616.5 1429.7 618.6 1431.5 620.5 C1433.7 622.8 1437.3 624.3 1441.5 625.5 C1447.7 627.2 1459.5 628.2 1465.5 627.5 C1469.3 627 1474.5 624.5 1474.5 624.5"/>
<path class="k" d="M1471.5 607.5 C1471.5 607.5 1470.5 617.5 1471.5 620.5 C1472.1 622.4 1474.5 624.5 1474.5 624.5"/>
<path class="k" d="M1431.5 587.5 C1431.5 587.5 1439.9 587 1444.5 586.5 C1449.6 586 1460.5 584.5 1460.5 584.5"/>
<path class="k" d="M1434.5 603.5 C1434.5 603.5 1440.5 601.2 1443.5 600.5 C1446.5 599.8 1452.5 599.5 1452.5 599.5"/>
<path class="k" style="stroke-width:5.5" d="M1469.5 587.5 C1469.5 587.5 1468 589.5 1467.5 590.5 C1467 591.5 1466.5 593.5 1466.5 593.5"/>
<path class="k" d="M1490.5 608.5 C1490.5 608.5 1490.5 617.5 1490.5 617.5 C1490.5 617.5 1494.5 618.5 1494.5 618.5 C1494.5 618.5 1498.5 611.8 1500.5 608.5 C1502.5 605.2 1504.1 600.2 1506.5 598.5 C1508.3 597.3 1512.5 597.5 1512.5 597.5 C1512.5 597.5 1516.3 602.6 1517.5 605.5 C1518.7 608.5 1519 612.5 1519.5 615.5 C1519.9 618 1520.5 622.5 1520.5 622.5"/>
<path class="k" d="M1548.5 603.5 C1548.5 603.5 1544.7 601.9 1542.5 601.5 C1539.8 601.1 1533.5 601.5 1533.5 601.5 C1533.5 601.5 1531.1 606.6 1531.5 608.5 C1531.8 610.1 1532.9 611.8 1534.5 612.5 C1537 613.6 1544.3 612.8 1546.5 611.5 C1547.7 610.8 1548.5 608.5 1548.5 608.5 C1548.5 608.5 1549.1 614.3 1549.5 617.5 C1550 621.2 1551.2 625.5 1551.5 629.5 C1551.8 633.5 1551.5 641.5 1551.5 641.5 C1551.5 641.5 1546.3 641.9 1543.5 641.5 C1540.3 641 1536.5 639.6 1533.5 638.5 C1530.9 637.6 1526.5 635.5 1526.5 635.5"/>
<path class="k" style="stroke-width:3.5" d="M1573.5 618.5 C1573.5 618.5 1573.8 621.2 1573.5 622.5 C1573.2 623.9 1571.5 626.5 1571.5 626.5"/>
<path class="k" d="M1443.5 679.5 C1443.5 679.5 1447.8 678.8 1450.5 678.5 C1454.2 678.1 1460.2 678.3 1463.5 677.5 C1465.6 677 1466.4 675.9 1468.5 675.5 C1471.6 674.9 1480.5 675.5 1480.5 675.5"/>
<path class="k" d="M1452.5 686.5 L1452.5 716.5"/>
<path class="k" d="M1488.5 680.5 C1488.5 680.5 1491.6 681.3 1494.5 681.5 C1501.8 682.1 1525.1 682 1533.5 681.5 C1537.6 681.3 1542.5 680.5 1542.5 680.5"/>
<path class="k" d="M1507.5 688.5 L1507.5 715.5"/>
<path class="k" d="M1419.5 770.5 C1419.5 770.5 1421.2 768 1422.5 767.5 C1424.1 766.9 1426.9 766.9 1428.5 767.5 C1429.8 768 1430.9 769 1431.5 770.5 C1432.4 772.7 1432.3 778 1431.5 780.5 C1430.9 782.3 1429.7 783.5 1428.5 784.5 C1427.4 785.5 1426.1 786.1 1424.5 786.5 C1422.5 787 1419.5 786.7 1417.5 786.5 C1416 786.3 1414.7 786.3 1413.5 785.5 C1412 784.5 1410.2 782.4 1409.5 780.5 C1408.9 778.7 1409.2 776.1 1409.5 774.5 C1409.7 773.3 1409.9 772.6 1410.5 771.5 C1411.3 770 1412.8 767.3 1414.5 766.5 C1416.2 765.7 1420.5 766.5 1420.5 766.5"/>
<path class="k" d="M1432.5 758.5 C1432.5 758.5 1432.3 764.8 1432.5 767.5 C1432.7 769.7 1432.9 771.9 1433.5 773.5 C1434 774.7 1434.9 775.1 1435.5 776.5 C1436.6 778.8 1438.5 786.5 1438.5 786.5 C1438.5 786.5 1440.1 780.7 1441.5 778.5 C1442.8 776.5 1444.7 774.5 1446.5 773.5 C1448.1 772.7 1450.1 772.1 1451.5 772.5 C1452.7 772.9 1453.6 774.1 1454.5 775.5 C1455.8 777.6 1457.5 784.5 1457.5 784.5"/>
<path class="k" d="M1466.5 766.5 C1466.5 766.5 1466.5 778.5 1466.5 778.5 C1466.5 778.5 1468.5 779.5 1468.5 779.5 C1468.5 779.5 1471.5 774.5 1473.5 772.5 C1475.5 770.5 1478.3 768.2 1480.5 767.5 C1482.2 767 1485.5 767.5 1485.5 767.5 C1485.5 767.5 1486 773.6 1486.5 776.5 C1487 779.3 1488.5 784.5 1488.5 784.5"/>
<path class="k" d="M1497.5 774.5 C1497.5 774.5 1501.6 771.1 1503.5 769.5 C1505.2 768.1 1507.8 767 1508.5 765.5 C1509.1 764.3 1508.5 761.5 1508.5 761.5 C1508.5 761.5 1502.1 761.4 1499.5 762.5 C1497.1 763.5 1494.8 765.5 1493.5 767.5 C1492.3 769.3 1491.8 771.4 1491.5 773.5 C1491.1 775.7 1490.6 778.8 1491.5 780.5 C1492.2 781.9 1493.6 782.8 1495.5 783.5 C1498.8 784.7 1510.5 784.5 1510.5 784.5"/>
<path class="k" d="M1425.5 810.5 C1425.5 810.5 1424.7 819.1 1425.5 823.5 C1426.4 828.4 1429.7 833.9 1431.5 838.5 C1433 842.4 1435.5 849.5 1435.5 849.5 C1435.5 849.5 1438.1 837.6 1440.5 835.5 C1441.9 834.3 1445.5 834.5 1445.5 834.5 C1445.5 834.5 1451.5 845.5 1451.5 845.5 C1451.5 845.5 1453.8 839.6 1454.5 835.5 C1455.6 829.1 1455.5 810.5 1455.5 810.5"/>
<path class="k" d="M1477.5 833.5 C1477.5 833.5 1482 832 1483.5 830.5 C1485 829 1485.7 826.6 1486.5 824.5 C1487.4 822.3 1488.5 817.5 1488.5 817.5 C1488.5 817.5 1485.2 815.3 1483.5 815.5 C1481.5 815.7 1478.8 817.8 1477.5 819.5 C1476.2 821.1 1475.9 823 1475.5 825.5 C1474.8 829.5 1474.8 837.7 1475.5 841.5 C1475.9 843.7 1477.5 846.5 1477.5 846.5 C1477.5 846.5 1481.8 846.5 1484.5 846.5 C1488.2 846.5 1497.5 846.5 1497.5 846.5 C1497.5 846.5 1499.5 842.5 1499.5 842.5"/>
<path class="k" d="M1493.5 825.5 L1495.5 839.5"/>
<path class="k" d="M1529.5 829.5 C1529.5 829.5 1526.2 828.8 1524.5 829.5 C1521.9 830.6 1517.8 834.5 1516.5 837.5 C1515.4 840.2 1515.4 844.3 1516.5 846.5 C1517.4 848.4 1519.2 849.7 1521.5 850.5 C1525 851.7 1532.9 851.5 1536.5 850.5 C1538.7 849.9 1541.5 847.5 1541.5 847.5"/>
<path class="k" d="M1540.5 808.5 C1540.5 808.5 1538.7 812.7 1538.5 815.5 C1538.2 819.5 1539.8 825.5 1540.5 830.5 C1541.2 835.5 1542.3 842.8 1542.5 845.5 C1542.6 846.5 1542.5 847.5 1542.5 847.5"/>
<path class="k" d="M1542.5 833.5 C1542.5 833.5 1547.7 829.7 1550.5 828.5 C1553.1 827.4 1558.5 826.5 1558.5 826.5 C1558.5 826.5 1562.3 831.4 1563.5 834.5 C1564.8 838 1564.7 842.3 1565.5 846.5 C1566.4 851.2 1568.5 861.5 1568.5 861.5"/>
<path class="k" d="M1578.5 840.5 C1578.5 840.5 1584.3 839.8 1586.5 838.5 C1588.6 837.3 1591 835.2 1591.5 833.5 C1591.9 832.2 1590.5 829.5 1590.5 829.5 C1590.5 829.5 1584.8 827.8 1582.5 828.5 C1580.2 829.2 1578 831.3 1576.5 833.5 C1574.8 836.1 1574.1 839.7 1573.5 843.5 C1572.8 848.4 1572.2 856 1573.5 860.5 C1574.5 863.8 1575.9 867.1 1578.5 868.5 C1581.5 870.2 1587.5 869.1 1591.5 868.5 C1595.1 868 1601.5 865.5 1601.5 865.5"/>
<path class="g" d="M850.5 694.5 C850.5 694.5 852.5 693.8 854.5 693.5 C860.9 692.7 884.4 692.5 894.5 693.5 C900.7 694.1 904.6 694.7 909.5 696.5 C914.9 698.5 920.7 702 925.5 705.5 C930 708.8 934.3 712.4 937.5 716.5 C940.6 720.4 943 724.9 944.5 729.5 C946 734 946.1 738.1 946.5 743.5 C947 750.6 947.3 761.4 946.5 768.5 C945.9 773.9 945.4 778.4 943.5 782.5 C941.7 786.4 938.4 789.7 935.5 792.5 C933 794.9 929.9 796.4 927.5 798.5 C925.3 800.4 923.7 802.6 921.5 804.5 C919.1 806.6 916 808.1 913.5 810.5 C910.6 813.3 910.2 818.2 905.5 820.5 C895.6 825.3 860.6 823.5 848.5 820.5 C842.4 819 839.9 815.9 835.5 813.5 C830.9 810.9 825.8 808.9 821.5 805.5 C817 802 813.6 797.3 809.5 792.5 C804.9 787.1 799 780.1 795.5 774.5 C792.8 770.2 790.7 767.1 789.5 762.5 C788.1 757 788 749.1 788.5 743.5 C788.9 739 789.7 735.1 791.5 731.5 C793.3 727.8 796.5 724.6 799.5 721.5 C802.5 718.3 805.8 714.7 809.5 712.5 C813.1 710.4 817.2 710.3 821.5 708.5 C827 706.2 834.5 701.6 839.5 699.5 C843 698.1 846.7 697.6 848.5 696.5 C849.5 695.9 850.5 694.5 850.5 694.5"/>
<path class="k" d="M825.5 737.5 C825.5 737.5 830 739.1 833.5 739.5 C840.1 740.2 855.4 737.3 862.5 738.5 C866.8 739.3 867.9 741.7 872.5 742.5 C882 744.2 917.5 741.5 917.5 741.5"/>
<path class="k" d="M846.5 740.5 C846.5 740.5 845.3 760.4 846.5 764.5 C847 766.1 848.5 767.5 848.5 767.5"/>
<path class="k" d="M887.5 743.5 L887.5 767.5"/>
<path class="k" d="M1098.5 700.5 C1098.5 700.5 1096.4 701.6 1095.5 702.5 C1094.4 703.5 1094 705.2 1092.5 706.5 C1090 708.6 1085 710.6 1080.5 712.5 C1075.2 714.7 1069.3 716.4 1062.5 718.5 C1053.6 721.3 1040.3 724.9 1031.5 727.5 C1025 729.4 1019.2 730.5 1014.5 732.5 C1010.9 734 1007 735.4 1005.5 737.5 C1004.4 739 1005.3 741.2 1004.5 742.5 C1003.7 743.8 1002 744.3 1000.5 745.5 C998.3 747.3 992.5 752.5 992.5 752.5 C992.5 752.5 993.4 755.2 994.5 756.5 C996.2 758.5 999.8 759.8 1002.5 762.5 C1006.4 766.4 1010.1 773.8 1014.5 778.5 C1018.8 783 1023.6 787 1028.5 790.5 C1033.3 793.9 1038.5 797.1 1043.5 799.5 C1048.1 801.7 1052.8 803.3 1057.5 804.5 C1062.1 805.6 1067.1 805.5 1071.5 806.5 C1075.7 807.5 1080.5 808.7 1083.5 810.5 C1085.7 811.9 1088.5 815.5 1088.5 815.5"/>
<path class="k" d="M1070.5 730.5 C1070.5 730.5 1086.4 729.7 1090.5 728.5 C1092.4 727.9 1093 726.9 1094.5 726.5 C1096.3 726.1 1097.5 726.5 1100.5 726.5 C1110.1 726.5 1150.4 728.6 1160.5 726.5 C1164.1 725.8 1164.4 724.2 1167.5 723.5 C1173.2 722.2 1184.7 722.7 1192.5 722.5 C1199.3 722.4 1205.7 723.1 1211.5 722.5 C1216.6 722 1219.6 720 1225.5 719.5 C1235.2 718.6 1264.5 720.5 1264.5 720.5"/>
<path class="k" d="M1075.5 785.5 C1075.5 785.5 1080.6 785.2 1083.5 785.5 C1086.9 785.8 1091.4 787.2 1094.5 787.5 C1096.8 787.7 1098 787.5 1100.5 787.5 C1104.7 787.5 1112.8 787 1117.5 787.5 C1121 787.9 1122.9 789.1 1126.5 789.5 C1131.8 790.1 1140.2 789.1 1146.5 789.5 C1152.1 789.9 1157.5 791 1162.5 791.5 C1166.8 791.9 1169.3 792.2 1174.5 792.5 C1183.9 793 1206.6 792.8 1214.5 793.5 C1217.8 793.8 1218.2 794.3 1221.5 794.5 C1229.1 794.9 1259.5 793.5 1259.5 793.5"/>
<path class="k" d="M1274.5 708.5 C1274.5 708.5 1266.7 708.7 1264.5 710.5 C1262.6 712 1262.1 714.7 1261.5 717.5 C1260.7 721.3 1260.7 727.7 1261.5 731.5 C1262.1 734.3 1262.6 736.8 1264.5 738.5 C1266.8 740.5 1271.5 741 1275.5 741.5 C1280.3 742.1 1291.5 741.5 1291.5 741.5 C1291.5 741.5 1291.4 736.4 1291.5 733.5 C1291.6 729.9 1292.8 724.9 1292.5 721.5 C1292.2 718.8 1292.2 716.4 1290.5 714.5 C1288.3 712 1281.5 710.5 1278.5 709.5 C1276.8 708.9 1274.5 708.5 1274.5 708.5"/>
<path class="k" d="M1273.5 770.5 C1273.5 770.5 1265.1 769.9 1261.5 771.5 C1257.7 773.1 1253.3 776.7 1251.5 780.5 C1249.6 784.4 1249.9 790.1 1250.5 794.5 C1251 798.7 1252.1 803.6 1254.5 806.5 C1256.6 809.1 1260 810.5 1263.5 811.5 C1267.5 812.7 1277.5 812.5 1277.5 812.5 C1277.5 812.5 1283.1 805.8 1284.5 801.5 C1286.1 796.4 1286.6 788.3 1285.5 783.5 C1284.7 779.8 1282.7 776.7 1280.5 774.5 C1278.6 772.5 1273.5 770.5 1273.5 770.5"/>
</svg>
</body></html>
